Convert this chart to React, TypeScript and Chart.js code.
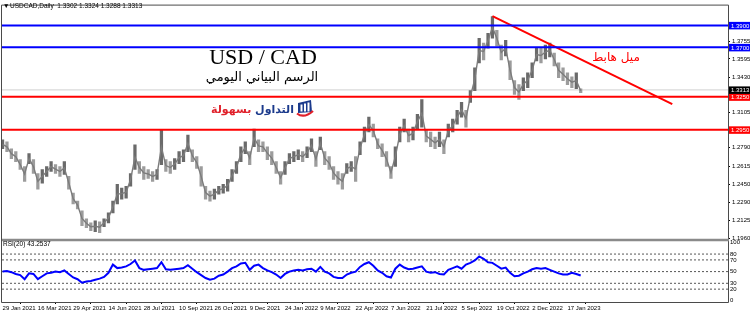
import React, { useEffect, useRef } from 'react';
import { Chart, registerables } from 'chart.js';

Chart.register(...registerables);

// bars per sample (price & RSI sampled every 4 daily bars)
const STEP = 4;

const highs = [
  1.2858, 1.2840, 1.2778, 1.2751, 1.2679, 1.2616, 1.2733, 1.2679, 1.2553, 1.2589,
  1.2616, 1.2661, 1.2634, 1.2616, 1.2661, 1.2526, 1.2374, 1.2302, 1.2212, 1.2140,
  1.2104, 1.2122, 1.2113, 1.2140, 1.2194, 1.2302, 1.2455, 1.2419, 1.2437, 1.2553,
  1.2813, 1.2661, 1.2616, 1.2589, 1.2571, 1.2589, 1.2948, 1.2679, 1.2661, 1.2688,
  1.2751, 1.2769, 1.2903, 1.2769, 1.2706, 1.2616, 1.2437, 1.2392, 1.2410, 1.2437,
  1.2455, 1.2499, 1.2589, 1.2661, 1.2796, 1.2840, 1.2751, 1.2957, 1.2858, 1.2840,
  1.2796, 1.2751, 1.2661, 1.2571, 1.2661, 1.2733, 1.2751, 1.2769, 1.2751, 1.2796,
  1.2867, 1.2751, 1.2885, 1.2751, 1.2706, 1.2616, 1.2571, 1.2553, 1.2643, 1.2661,
  1.2706, 1.2840, 1.2975, 1.3065, 1.3002, 1.2867, 1.2822, 1.2751, 1.2616, 1.2796,
  1.2975, 1.3047, 1.2957, 1.2975, 1.3092, 1.3226, 1.2948, 1.2930, 1.2885, 1.2930,
  1.2858, 1.3002, 1.3047, 1.3128, 1.3199, 1.3128, 1.3307, 1.3514, 1.3783, 1.3738,
  1.3828, 1.3981, 1.3855, 1.3720, 1.3765, 1.3577, 1.3397, 1.3361, 1.3424, 1.3469,
  1.3559, 1.3693, 1.3693, 1.3720, 1.3738, 1.3648, 1.3559, 1.3514, 1.3469, 1.3433,
  1.3469, 1.3324,
];

const lows = [
  1.2778, 1.2751, 1.2688, 1.2661, 1.2589, 1.2481, 1.2643, 1.2553, 1.2410, 1.2464,
  1.2526, 1.2571, 1.2553, 1.2526, 1.2544, 1.2410, 1.2275, 1.2230, 1.2077, 1.2059,
  1.2032, 1.2023, 1.2014, 1.2068, 1.2104, 1.2194, 1.2275, 1.2320, 1.2329, 1.2437,
  1.2589, 1.2553, 1.2499, 1.2508, 1.2481, 1.2499, 1.2634, 1.2571, 1.2553, 1.2589,
  1.2643, 1.2661, 1.2751, 1.2661, 1.2598, 1.2437, 1.2320, 1.2302, 1.2320, 1.2365,
  1.2374, 1.2392, 1.2481, 1.2553, 1.2661, 1.2733, 1.2634, 1.2796, 1.2751, 1.2751,
  1.2679, 1.2634, 1.2553, 1.2455, 1.2544, 1.2643, 1.2661, 1.2679, 1.2661, 1.2697,
  1.2751, 1.2616, 1.2769, 1.2634, 1.2589, 1.2499, 1.2455, 1.2410, 1.2553, 1.2571,
  1.2481, 1.2724, 1.2840, 1.2930, 1.2885, 1.2778, 1.2706, 1.2616, 1.2508, 1.2616,
  1.2840, 1.2930, 1.2840, 1.2858, 1.2957, 1.2975, 1.2840, 1.2796, 1.2778, 1.2796,
  1.2733, 1.2885, 1.2930, 1.3002, 1.3065, 1.2975, 1.3199, 1.3307, 1.3559, 1.3586,
  1.3693, 1.3783, 1.3711, 1.3586, 1.3622, 1.3406, 1.3271, 1.3226, 1.3307, 1.3334,
  1.3424, 1.3577, 1.3559, 1.3595, 1.3613, 1.3532, 1.3424, 1.3397, 1.3361, 1.3334,
  1.3325, 1.3288,
];

const rsiValues = [
  50, 51, 49, 46, 44, 37, 47, 46, 37, 42,
  47, 48, 50, 49, 52, 46, 40, 37, 31, 33,
  34, 36, 38, 41, 48, 62, 56, 57, 59, 63,
  69, 56, 53, 54, 55, 56, 66, 54, 53, 54,
  55, 56, 61, 55, 49, 44, 39, 36, 38, 43,
  45, 50, 56, 59, 64, 65, 53, 60, 62, 56,
  52, 49, 45, 39, 46, 50, 52, 53, 52, 54,
  55, 50, 58, 50, 47, 41, 39, 39, 45, 48,
  50, 58, 63, 66, 60, 52, 48, 42, 40, 55,
  62, 57, 54, 55, 57, 59, 50, 48, 49, 46,
  45, 53, 56, 59, 55, 62, 65, 69, 76, 72,
  66, 65, 60, 55, 57, 48, 42, 43, 47, 50,
  54, 56, 55, 56, 53, 50, 47, 45, 45, 48,
  46, 43.2537,
];

const xTickBars = [0, 32, 64, 96, 128, 160, 192, 224, 256, 288, 320, 352, 384, 416, 448, 480, 512];
const xTickLabels = [
  '29 Jan 2021', '16 Mar 2021', '29 Apr 2021', '14 Jun 2021', '28 Jul 2021', '10 Sep 2021',
  '26 Oct 2021', '9 Dec 2021', '24 Jan 2022', '9 Mar 2022', '22 Apr 2022', '7 Jun 2022',
  '21 Jul 2022', '5 Sep 2022', '19 Oct 2022', '2 Dec 2022', '17 Jan 2023',
];

const priceTicks = [1.196, 1.2125, 1.229, 1.245, 1.2615, 1.279, 1.3105, 1.343, 1.3595, 1.3755];
const rsiTicks = [0, 20, 30, 50, 70, 80, 100];
const rsiLevels = [20, 30, 50, 70, 80];
const blueLevels = [1.39, 1.37];
const redLevels = [1.325, 1.295];
const lastPrice = 1.3313;
const trendBars = [444, 607];
const trendPrices = [1.3984, 1.3184];
const headerOHLC = [1.3302, 1.3324, 1.3288, 1.3313];
const rsiLast = 43.2537;

const X_MIN = -0.5;
const X_MAX = 657.5;

export default function App() {
  const ref = useRef<HTMLCanvasElement>(null);

  useEffect(() => {
    document.body.style.margin = '0';
    const canvas = ref.current;
    if (!canvas) return;

    const span = (v: number) => [
      { x: X_MIN, y: v },
      { x: X_MAX, y: v },
    ];
    const lineDs = (data: any[], color: string, width: number, axis: string, dash: number[] = []) => ({
      type: 'line' as const,
      data,
      borderColor: color,
      backgroundColor: color,
      borderWidth: width,
      borderDash: dash,
      pointRadius: 0,
      fill: false,
      tension: 0,
      yAxisID: axis,
    });

    const barData = highs.map((h, i) => ({ x: i * STEP, y: [lows[i], h] }));
    const midData = highs.map((h, i) => ({ x: i * STEP, y: (h + lows[i]) / 2 }));
    const barColors = highs.map((h, i) =>
      i === 0 || h + lows[i] >= highs[i - 1] + lows[i - 1] ? '#6a6a6a' : '#9c9c9c'
    );
    const rsiData = rsiValues.map((v, i) => ({ x: i * STEP, y: v }));

    const overlay = {
      id: 'overlay',
      afterDraw(chart: any) {
        const ctx = chart.ctx as CanvasRenderingContext2D;
        const ca = chart.chartArea;
        const ys = chart.scales.y;
        const rs = chart.scales.rsi;
        ctx.save();
        // frame
        ctx.strokeStyle = '#4a4a4a';
        ctx.lineWidth = 1;
        ctx.beginPath();
        ctx.moveTo(ca.left - 0.5, ca.top - 0.5);
        ctx.lineTo(ca.right + 0.5, ca.top - 0.5);
        ctx.moveTo(ca.left - 0.5, ca.top - 0.5);
        ctx.lineTo(ca.left - 0.5, ca.bottom + 0.5);
        ctx.moveTo(ca.left - 0.5, ca.bottom + 0.5);
        ctx.lineTo(ca.right + 0.5, ca.bottom + 0.5);
        ctx.moveTo(ca.right + 0.5, ca.top - 0.5);
        ctx.lineTo(ca.right + 0.5, ca.bottom + 0.5);
        ctx.stroke();
        // panel separator
        ctx.fillStyle = '#8a8a8a';
        ctx.fillRect(ca.left, ys.bottom - 1, ca.right - ca.left + 1, 2.5);

        // boxed price labels
        const box = (v: number, bg: string) => {
          const py = ys.getPixelForValue(v);
          ctx.fillStyle = bg;
          ctx.fillRect(ca.right + 1, py - 3.5, 21, 7.5);
          ctx.fillStyle = '#ffffff';
          ctx.font = '6px "Liberation Sans"';
          ctx.textAlign = 'left';
          ctx.textBaseline = 'middle';
          ctx.fillText(v.toFixed(4), ca.right + 3, py + 0.5);
        };
        blueLevels.forEach((v) => box(v, '#0000ff'));
        redLevels.forEach((v) => box(v, '#ff0000'));
        box(lastPrice, '#000000');

        // header
        ctx.fillStyle = '#000';
        ctx.font = '6.5px "Liberation Sans"';
        ctx.textAlign = 'left';
        ctx.textBaseline = 'middle';
        ctx.fillText('\u25BC', 3, 6.5);
        ctx.fillText('USDCAD,Daily  ' + headerOHLC.map((v) => v.toFixed(4)).join(' '), 10, 6.5);
        ctx.fillText('RSI(20) ' + rsiLast.toFixed(4), 3, rs.top + 4.5);

        // title
        ctx.textAlign = 'center';
        ctx.textBaseline = 'alphabetic';
        ctx.font = '22px "Liberation Serif"';
        ctx.fillText('USD / CAD', 263, 64);
        ctx.font = '13px "DejaVu Sans"';
        ctx.fillText('الرسم البياني اليومي', 262, 81);

        // logo text
        ctx.font = 'bold 11px "DejaVu Sans"';
        ctx.textAlign = 'right';
        ctx.fillStyle = '#1b3a8c';
        ctx.fillText('التداول', 294, 113);
        const w = ctx.measureText('التداول ').width;
        ctx.fillStyle = '#e0202a';
        ctx.fillText('بسهولة', 294 - w, 113);
        // logo icon
        ctx.fillStyle = '#1b3a8c';
        ctx.beginPath();
        ctx.moveTo(298, 103);
        ctx.lineTo(311, 100);
        ctx.lineTo(312, 112);
        ctx.lineTo(298, 113);
        ctx.closePath();
        ctx.fill();
        ctx.fillStyle = '#ffffff';
        ctx.fillRect(300.5, 104.5, 2, 7);
        ctx.fillRect(304, 103.5, 2, 8);
        ctx.fillRect(307.5, 102.5, 2, 9);
        ctx.strokeStyle = '#e0202a';
        ctx.lineWidth = 2.2;
        ctx.beginPath();
        ctx.moveTo(297, 113.5);
        ctx.quadraticCurveTo(304, 119, 313, 111);
        ctx.stroke();

        // trend annotation
        ctx.fillStyle = '#ff0000';
        ctx.textAlign = 'center';
        ctx.font = '12px "DejaVu Sans"';
        ctx.fillText('ميل هابط', 616, 61);
        ctx.restore();
      },
    };

    const tickFont = { family: 'Liberation Sans', size: 6 };
    const tickGrid = {
      display: true,
      drawOnChartArea: false,
      drawTicks: true,
      tickLength: 2,
      color: '#000',
    };

    const chart = new Chart(canvas, {
      type: 'bar',
      data: {
        datasets: [
          ...blueLevels.map((v) => lineDs(span(v), '#0000ff', 2, 'y')),
          ...redLevels.map((v) => lineDs(span(v), '#ff0000', 2, 'y')),
          lineDs(
            trendBars.map((b, i) => ({ x: b, y: trendPrices[i] })),
            '#ff0000',
            2,
            'y'
          ),
          lineDs(rsiData, '#0000ff', 2, 'rsi'),
          ...rsiLevels.map((v) => lineDs(span(v), '#555555', 1, 'rsi', [2, 2])),
          lineDs(midData, '#7c7c7c', 1.4, 'y'),
          {
            type: 'bar' as const,
            data: barData as any,
            backgroundColor: barColors,
            borderWidth: 0,
            barThickness: 2.6,
            grouped: false,
            yAxisID: 'y',
          },
          lineDs(span(lastPrice), '#d0d0d0', 1, 'y'),
        ] as any,
      },
      options: {
        responsive: false,
        animation: false,
        devicePixelRatio: 1,
        layout: { padding: { left: 2, top: 2, right: 0, bottom: 0 } },
        plugins: { legend: { display: false }, tooltip: { enabled: false } },
        scales: {
          x: {
            type: 'linear',
            min: X_MIN,
            max: X_MAX,
            offset: false,
            position: 'bottom',
            afterBuildTicks: (s: any) => {
              s.ticks = xTickBars.map((v) => ({ value: v }));
            },
            afterFit: (s: any) => {
              s.height = 12;
            },
            ticks: {
              autoSkip: false,
              maxRotation: 0,
              align: 'start',
              padding: 1,
              color: '#000',
              font: tickFont,
              callback: (_v: any, i: number) => xTickLabels[i],
            },
            grid: tickGrid,
            border: { display: false },
          },
          y: {
            type: 'linear',
            position: 'right',
            stack: 'panels',
            stackWeight: 237,
            min: 1.195,
            max: 1.408,
            afterBuildTicks: (s: any) => {
              s.ticks = priceTicks.map((v) => ({ value: v }));
            },
            afterFit: (s: any) => {
              s.width = 22;
            },
            ticks: {
              autoSkip: false,
              padding: 2,
              color: '#000',
              font: tickFont,
              callback: (v: any) => Number(v).toFixed(4),
            },
            grid: tickGrid,
            border: { display: false },
          },
          rsi: {
            type: 'linear',
            position: 'right',
            stack: 'panels',
            stackWeight: 63,
            min: -2,
            max: 104.5,
            afterBuildTicks: (s: any) => {
              s.ticks = rsiTicks.map((v) => ({ value: v }));
            },
            afterFit: (s: any) => {
              s.width = 22;
            },
            ticks: {
              autoSkip: false,
              padding: 2,
              color: '#000',
              font: tickFont,
              callback: (v: any) => String(v),
            },
            grid: { ...tickGrid, drawTicks: false, tickLength: 2 },
            border: { display: false },
          },
        },
      } as any,
      plugins: [overlay],
    });

    return () => chart.destroy();
  }, []);

  return <canvas ref={ref} width={750} height={314} style={{ display: 'block' }} />;
}
